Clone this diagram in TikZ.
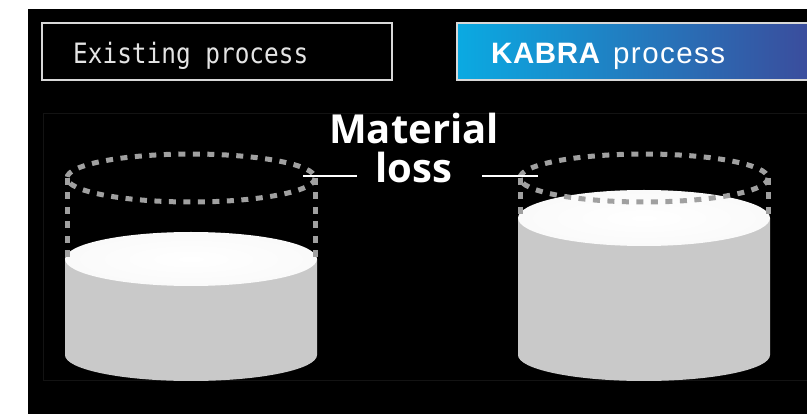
\documentclass[tikz,border=0pt]{standalone}
\usepackage{fontspec}
\setmainfont{Liberation Sans}
\newfontfamily\monofont{DejaVu Sans Mono}
\newfontfamily\labelfont{Open Sans}
\newfontfamily\headfont{Liberation Sans}
\definecolor{bodygray}{HTML}{C9C9C9}
\definecolor{dashgray}{HTML}{A0A0A0}
\definecolor{panelline}{HTML}{131313}
\definecolor{boxline}{HTML}{D8D8D8}
\definecolor{kabraleft}{HTML}{0AAAE2}
\definecolor{kabraright}{HTML}{3B4C9C}
\definecolor{captiongray}{HTML}{E4E4E4}
\begin{document}
\begin{tikzpicture}[x=1pt,y=-1pt,
  headbox/.style={draw=boxline,line width=1.4pt},
  cylbody/.style={fill=bodygray},
  cyltop/.style={inner color=white,outer color=white!98!black},
  lossoutline/.style={draw=dashgray,line width=5pt,dash pattern=on 7pt off 7.5pt},
  leader/.style={draw=white,line width=1.8pt}]
  \useasboundingbox (0,0) rectangle (807,414);
  % page and dark canvas
  \fill[white] (0,0) rectangle (807,414);
  \fill[black] (28,9) rectangle (807,414);
  \draw[panelline,line width=1pt] (43,114) rectangle (812,381);

  % header boxes
  \draw[headbox] (42,23) rectangle (392,80);
  \node[anchor=base west,inner sep=0,text=captiongray,font=\monofont\fontsize{24.4}{28}\selectfont]
    (existing) at (73,64) {\scalebox{1}[1.15]{Existing process}};
  \shade[left color=kabraleft,right color=kabraright] (457,23) rectangle (812,80);
  \draw[headbox] (457,23) rectangle (812,80);
  \node[anchor=base west,inner sep=0,text=white]
    (kabra) at (491,64) {\headfont\fontsize{29.5}{32}\selectfont
      {\bfseries\addfontfeature{LetterSpace=2}KABRA}\hspace{13pt}{\addfontfeature{LetterSpace=5}process}};

  % left cylinder (existing process)
  \path[cylbody] (65,259) -- (65,355) arc[start angle=180,end angle=0,x radius=126,y radius=26]
    -- (317,259) -- cycle;
  \path[cyltop] (191,259) ellipse[x radius=126,y radius=27];
  \draw[lossoutline] (191,178) ellipse[x radius=124,y radius=24];
  \draw[lossoutline] (67,178) -- (67,259);
  \draw[lossoutline] (315,178) -- (315,259);

  % right cylinder (KABRA process)
  \path[cylbody] (518,218) -- (518,355) arc[start angle=180,end angle=0,x radius=126,y radius=26]
    -- (770,218) -- cycle;
  \path[cyltop] (644,218) ellipse[x radius=126,y radius=28];
  \draw[lossoutline] (644,178) ellipse[x radius=124,y radius=24];
  \draw[lossoutline] (520,178) -- (520,218);
  \draw[lossoutline] (768,178) -- (768,218);

  % caption with leaders
  \node[anchor=base,inner sep=0,text=white,font=\labelfont\bfseries\fontsize{40}{44}\selectfont]
    (material) at (414,144) {Material};
  \node[anchor=base,inner sep=0,text=white,font=\labelfont\bfseries\fontsize{40}{44}\selectfont]
    (loss) at (414,183) {loss};
  \coordinate (leftend) at (303,176);
  \coordinate (rightend) at (538,176);
  \draw[leader] (leftend) -- (357,176);
  \draw[leader] (482,176) -- (rightend);
\end{tikzpicture}
\end{document}
